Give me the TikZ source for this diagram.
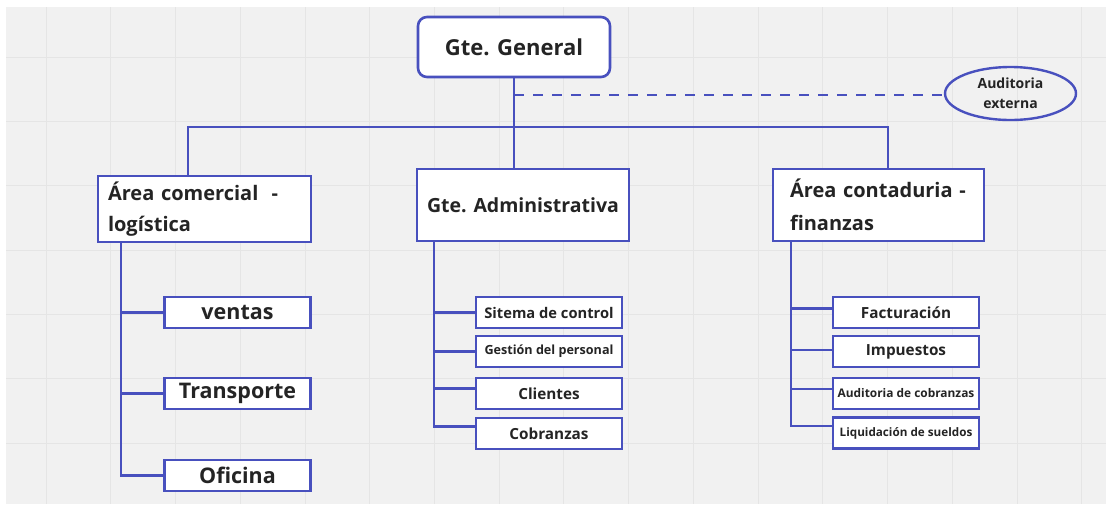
\documentclass[tikz,border=0pt]{standalone}
\usepackage{fontspec}
\setmainfont{Open Sans}
\usetikzlibrary{shapes.geometric,calc}
\definecolor{edge}{RGB}{72,80,190}
\definecolor{ink}{RGB}{36,36,36}
\definecolor{canvas}{RGB}{241,241,241}
\definecolor{gridc}{RGB}{229,229,229}
\newcommand{\fs}[1]{\bfseries\fontsize{#1}{#1}\selectfont}
\begin{document}
\begin{tikzpicture}[x=1pt,y=-1pt,
  box/.style={draw=edge,line width=2.6pt,fill=white,inner sep=0pt,text=ink},
  leaf/.style={box,minimum width=146pt,minimum height=31pt},
  link/.style={draw=edge,line width=2.2pt},
  dotted link/.style={link,dash pattern=on 10pt off 9pt}]
% canvas and grid
\useasboundingbox (0,0) rectangle (1111,507);
\fill[white] (0,0) rectangle (1111,507);
\fill[canvas] (6,7) rectangle (1106,504);
\foreach \k in {0,...,16}
  \draw[gridc,line width=0.8pt] ({46+64.73*\k},7) -- ({46+64.73*\k},504);
\foreach \k in {0,...,6}
  \draw[gridc,line width=0.8pt] (6,{57+64.33*\k}) -- (1106,{57+64.33*\k});

% top level
\node[box,rounded corners=9pt,minimum width=192pt,minimum height=60pt,font=\fs{22}] (gg) at (514,47) {Gte. General};
\node[ellipse,draw=edge,line width=2.4pt,minimum width=131pt,minimum height=53pt,inner sep=0pt,
  align=center,text=ink,font=\bfseries\fontsize{14}{20}\selectfont] (aud) at (1010.5,93.5) {Auditoria\\externa};

% second level
\node[box,minimum width=213pt,minimum height=66pt,text width=213pt,align=left,
  font=\bfseries\fontsize{20}{31}\selectfont] (com) at (204.5,209) {\hspace*{10pt}Área comercial\ \ -\\\hspace*{10pt}logística};
\node[box,minimum width=212pt,minimum height=72pt,font=\fs{19.5}] (adm) at (523,205) {Gte. Administrativa};
\node[box,minimum width=211pt,minimum height=72pt,text width=211pt,align=left,
  font=\bfseries\fontsize{20}{33}\selectfont] (cont) at (878.5,205) {\hspace*{17pt}Área contaduria -\\\hspace*{17pt}finanzas};

% third level
\node[leaf,font=\fs{21.5}] (ven) at (237.5,312.5) {ventas};
\node[leaf,font=\fs{21.5}] (tra) at (237.5,393.5) {Transporte};
\node[leaf,font=\fs{21.5}] (ofi) at (237.5,475.5) {Oficina};

\node[leaf,font=\fs{14.7}] (sit) at (549,312.5) {Sitema de control};
\node[leaf,font=\fs{12.6}] (ges) at (549,351.5) {Gestión del personal};
\node[leaf,font=\fs{15.3}] (cli) at (549,393.5) {Clientes};
\node[leaf,font=\fs{15.3}] (cob) at (549,433.5) {Cobranzas};

\node[leaf,font=\fs{15.3}] (fac) at (906,312.5) {Facturación};
\node[leaf,font=\fs{15.3}] (imp) at (906,351.5) {Impuestos};
\node[leaf,font=\fs{11.9}] (auc) at (906,393.5) {Auditoria de cobranzas};
\node[leaf,font=\fs{11.7}] (liq) at (906,433) {Liquidación de sueldos};

% connectors
\coordinate (hubL) at (188,127);
\coordinate (hubR) at (888,127);
\coordinate (tap) at (514,95);
\coordinate (sc) at (121,0);
\coordinate (sa) at (434,0);
\coordinate (sf) at (791,0);

\draw[link] (gg.south) -- (gg.south |- adm.north);
\draw[link] (com.north -| hubL) -- (hubL) -- (hubR) -- (hubR |- cont.north);
\draw[dotted link] (tap) -- (tap -| aud.west);

\draw[link] (com.south -| sc) |- (ofi.west);
\draw[link] (ven.west -| sc) -- (ven.west);
\draw[link] (tra.west -| sc) -- (tra.west);

\draw[link] (adm.south -| sa) |- ($(cob.west)+(0,-7)$);
\draw[link] (sit.west -| sa) -- (sit.west);
\draw[link] (ges.west -| sa) -- (ges.west);
\draw[link] ($(cli.west)+(0,-5)$) -- ($(cli.west -| sa)+(0,-5)$);

\draw[link] (cont.south -| sf) |- ($(liq.west)+(0,-7)$);
\draw[link] ($(fac.west)+(0,-4)$) -- ($(fac.west -| sf)+(0,-4)$);
\draw[link] ($(imp.west)+(0,-1.5)$) -- ($(imp.west -| sf)+(0,-1.5)$);
\draw[link] ($(auc.west)+(0,-4.5)$) -- ($(auc.west -| sf)+(0,-4.5)$);
\end{tikzpicture}
\end{document}
